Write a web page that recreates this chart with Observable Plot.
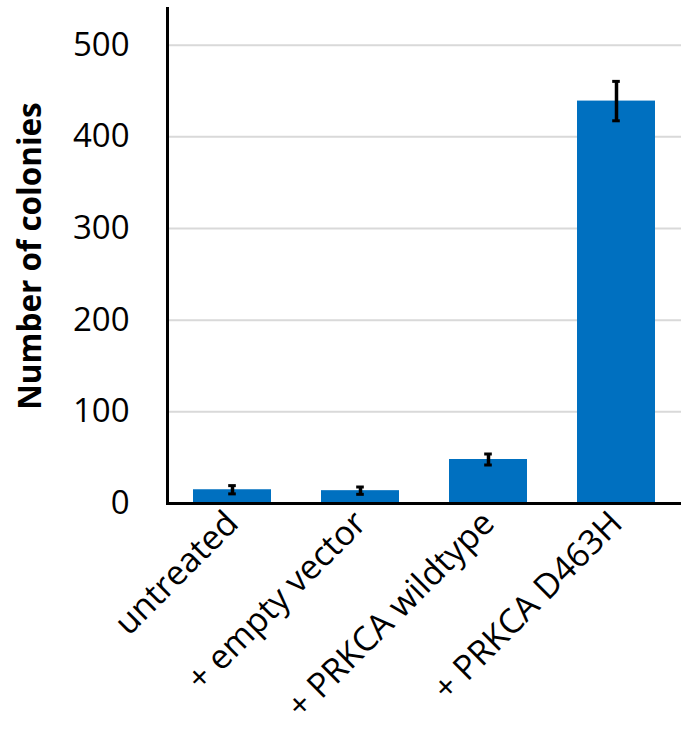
<!DOCTYPE html>
<html>
<head>
<meta charset="utf-8">
<script src="https://cdn.jsdelivr.net/npm/d3@7"></script>
<script src="https://cdn.jsdelivr.net/npm/@observablehq/plot@0.6"></script>
<style>
  html, body { margin: 0; padding: 0; background: #fff; }
  #chart svg { display: block; }
</style>
</head>
<body>
<div id="chart"></div>
<script>
const categories = ["untreated", "+ empty vector", "+ PRKCA wildtype", "+ PRKCA D463H"];
const colonies = [15, 14, 48, 439];
const errors = [4.5, 4, 6, 21.5];
const yTicks = [0, 100, 200, 300, 400, 500];

const data = categories.map((c, i) => ({
  cat: c, value: colonies[i], lo: colonies[i] - errors[i], hi: colonies[i] + errors[i]
}));

const W = 686, H = 732;
const mL = 167, mR = 5;
const padInner = 0.39;
const bandW = (W - mL - mR) / categories.length * (1 - padInner);
const capW = 8;
const capInset = (bandW - capW) / 2;
const font = "'Open Sans', sans-serif";

const chart = Plot.plot({
  width: W,
  height: H,
  marginLeft: mL,
  marginRight: mR,
  marginTop: 8,
  marginBottom: 229,
  style: { fontFamily: font, background: "#fff", color: "#000" },
  x: { domain: categories, paddingInner: padInner, paddingOuter: padInner / 2 },
  y: { domain: [0, 540] },
  marks: [
    Plot.gridY(yTicks.filter(d => d > 0), { stroke: "#d9d9d9", strokeOpacity: 1, strokeWidth: 2 }),
    Plot.barY(data, { x: "cat", y: "value", fill: "#0070C0" }),
    Plot.ruleX(data, { x: "cat", y1: "lo", y2: "hi", stroke: "#000", strokeWidth: 3.5 }),
    Plot.tickY(data, { x: "cat", y: "lo", stroke: "#000", strokeWidth: 3, insetLeft: capInset, insetRight: capInset }),
    Plot.tickY(data, { x: "cat", y: "hi", stroke: "#000", strokeWidth: 3, insetLeft: capInset, insetRight: capInset }),
    Plot.ruleY([0], { stroke: "#000", strokeWidth: 3 }),
    Plot.frame({ anchor: "left", stroke: "#000", strokeWidth: 3 }),
    Plot.axisY({ ticks: yTicks, tickSize: 0, tickPadding: 38, fontSize: 33, label: null, tickFormat: d => String(d) }),
    Plot.axisX({ tickSize: 0, tickRotate: -45, tickPadding: 14, fontSize: 34, label: null }),
    Plot.text(["Number of colonies"], {
      frameAnchor: "left", textAnchor: "middle", rotate: -90, dx: -137, fontSize: 31.5, fontWeight: "bold", fill: "#000"
    })
  ]
});

document.getElementById("chart").appendChild(chart);
</script>
</body>
</html>
